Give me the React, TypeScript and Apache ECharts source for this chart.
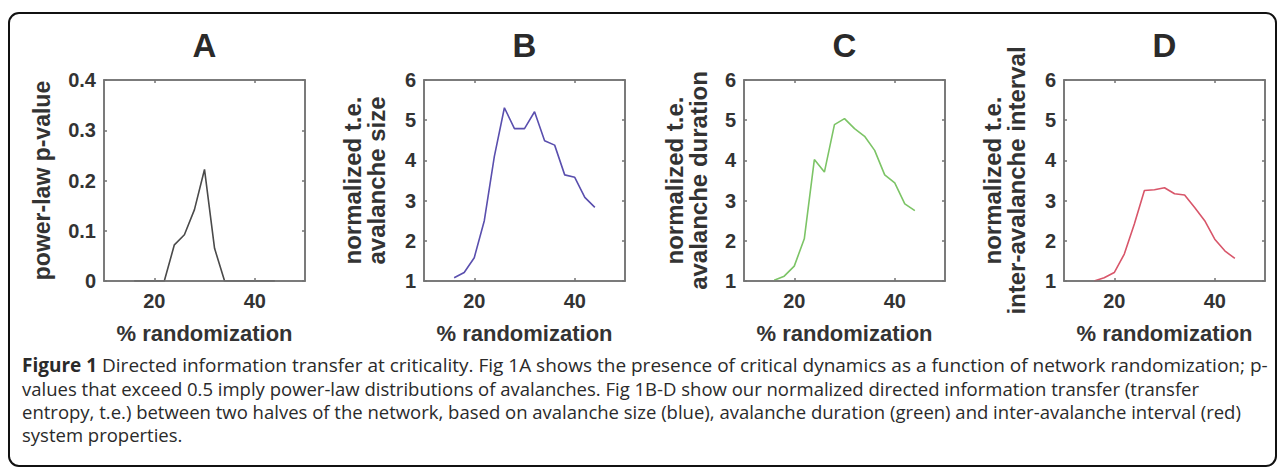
import React, { useEffect, useRef } from "react";
import * as echarts from "echarts";

// ---- data ----
const xPercent = [16, 18, 20, 22, 24, 26, 28, 30, 32, 34, 36, 38, 40, 42, 44];
const pValueA = [0, 0, 0, 0, 0.072, 0.092, 0.142, 0.222, 0.065, 0, 0, 0, 0, 0, 0];
const teSizeB = [1.08, 1.21, 1.58, 2.5, 4.1, 5.31, 4.79, 4.79, 5.21, 4.49, 4.38, 3.64, 3.58, 3.08, 2.83];
const teDurationC = [1.02, 1.12, 1.37, 2.05, 4.02, 3.71, 4.89, 5.04, 4.79, 4.6, 4.25, 3.64, 3.44, 2.92, 2.75];
const teIntervalD = [1.0, 1.08, 1.21, 1.67, 2.42, 3.25, 3.27, 3.32, 3.17, 3.14, 2.83, 2.5, 2.04, 1.75, 1.56];

const panelLetters = ["A", "B", "C", "D"];
const yNames = [
  "power-law p-value",
  "normalized t.e.\navalanche size",
  "normalized t.e.\navalanche duration",
  "normalized t.e.\ninter-avalanche interval",
];
const xName = "% randomization";
const xTickValues = [20, 40];
const yRanges = [
  { min: 0, max: 0.4, interval: 0.1 },
  { min: 1, max: 6, interval: 1 },
  { min: 1, max: 6, interval: 1 },
  { min: 1, max: 6, interval: 1 },
];
const seriesValues = [pValueA, teSizeB, teDurationC, teIntervalD];
const seriesColors = ["#4a4a4a", "#5a4fae", "#7cc466", "#d8566a"];

const captionLines = [
  "{b|Figure 1} Directed information transfer at criticality. Fig 1A shows the presence of critical dynamics as a function of network randomization; p-",
  "values that exceed 0.5 imply power-law distributions of avalanches. Fig 1B-D show our normalized directed information transfer (transfer",
  "entropy, t.e.) between two halves of the network, based on avalanche size (blue), avalanche duration (green) and inter-avalanche interval (red)",
  "system properties.",
];
const captionSizes = [19, 18.5, 18.5, 18.5];

const FONT = "'Liberation Sans', Arial, Helvetica, sans-serif";
const CAPFONT = "'Open Sans', 'Noto Sans', sans-serif";
const AX = "#737373";
const TXT = "#333333";

export default function App() {
  const ref = useRef<HTMLDivElement>(null);
  useEffect(() => {
    document.body.style.margin = "0";
    const chart = echarts.init(ref.current!, null, { renderer: "svg" });
    const lefts = [104, 424, 744, 1064];
    const top = 80;
    const size = 201;
    const nameGaps = [50, 36, 34, 36];
    const nameSizes = [23, 24, 24, 24];

    const grid = lefts.map((l) => ({
      left: l,
      top,
      width: size,
      height: size,
      show: true,
      borderColor: AX,
      borderWidth: 1.5,
      backgroundColor: "transparent",
    }));
    const xAxis: any[] = [];
    const yAxis: any[] = [];
    const series: any[] = [];
    const lineStyle = { color: AX, width: 1.5 };
    lefts.forEach((l, i) => {
      const base = {
        type: "value",
        gridIndex: i,
        min: 10,
        max: 50,
        splitLine: { show: false },
        z: 3,
      };
      xAxis.push({
        ...base,
        position: "bottom",
        axisLine: { show: true, onZero: false, lineStyle },
        axisTick: { show: true, inside: true, length: 3, customValues: xTickValues, lineStyle },
        axisLabel: {
          customValues: xTickValues,
          fontSize: 20,
          fontWeight: "bold",
          color: TXT,
          fontFamily: FONT,
          margin: 10,
        },
        name: xName,
        nameLocation: "middle",
        nameGap: 41,
        nameTextStyle: { fontSize: 22, fontWeight: "bold", color: TXT, fontFamily: FONT },
      });
      xAxis.push({
        ...base,
        position: "top",
        show: true,
        axisLine: { show: true, onZero: false, lineStyle },
        axisTick: { show: true, inside: true, length: 3, customValues: xTickValues, lineStyle },
        axisLabel: { show: false },
      });
      const yr = yRanges[i];
      const ybase = {
        type: "value",
        gridIndex: i,
        min: yr.min,
        max: yr.max,
        interval: yr.interval,
        splitLine: { show: false },
        z: 3,
      };
      yAxis.push({
        ...ybase,
        position: "left",
        axisLine: { show: true, onZero: false, lineStyle },
        axisTick: { show: true, inside: true, length: 3, lineStyle },
        axisLabel: { fontSize: 20, fontWeight: "bold", color: TXT, fontFamily: FONT, margin: 8 },
        name: yNames[i],
        nameLocation: "middle",
        nameRotate: 90,
        nameGap: nameGaps[i],
        nameTextStyle: {
          fontSize: nameSizes[i],
          fontWeight: "bold",
          color: TXT,
          fontFamily: FONT,
          lineHeight: 24,
        },
      });
      yAxis.push({
        ...ybase,
        position: "right",
        show: true,
        axisLine: { show: true, onZero: false, lineStyle },
        axisTick: { show: true, inside: true, length: 3, lineStyle },
        axisLabel: { show: false },
      });
      series.push({
        type: "line",
        xAxisIndex: i * 2,
        yAxisIndex: i * 2,
        data: xPercent.map((x, k) => [x, seriesValues[i][k]]),
        showSymbol: false,
        symbol: "none",
        lineStyle: { color: seriesColors[i], width: 1.6 },
        z: 2,
      });
      // empty series so that the mirrored top/right axes are attached to a coordinate system
      series.push({
        type: "line",
        xAxisIndex: i * 2 + 1,
        yAxisIndex: i * 2 + 1,
        data: [],
        showSymbol: false,
        silent: true,
      });
    });

    const graphic: any[] = [
      {
        type: "rect",
        shape: { x: 9, y: 13, width: 1267, height: 453, r: 10 },
        style: { fill: "none", stroke: "#111", lineWidth: 2 },
        silent: true,
      },
    ];
    panelLetters.forEach((t, i) => {
      graphic.push({
        type: "text",
        x: lefts[i] + size / 2,
        y: 45,
        style: {
          text: t,
          fontSize: 33,
          fontWeight: "bold",
          fontFamily: FONT,
          fill: "#2a2a2a",
          align: "center",
          verticalAlign: "middle",
        },
      });
    });
    captionLines.forEach((line, i) => {
      graphic.push({
        type: "text",
        x: 22,
        y: 365 + i * 23,
        style: {
          text: line,
          fontSize: captionSizes[i],
          lineHeight: 21,
          fontFamily: CAPFONT,
          fill: "#2a2a2a",
          align: "left",
          verticalAlign: "middle",
          rich: {
            b: {
              fontSize: captionSizes[i],
              lineHeight: 21,
              fontWeight: "bold",
              fontFamily: CAPFONT,
              fill: "#2a2a2a",
            },
          },
        },
      });
    });

    chart.setOption({ animation: false, grid, xAxis, yAxis, series, graphic });
    return () => chart.dispose();
  }, []);
  return <div ref={ref} style={{ width: 1282, height: 470, overflow: "hidden" }} />;
}
